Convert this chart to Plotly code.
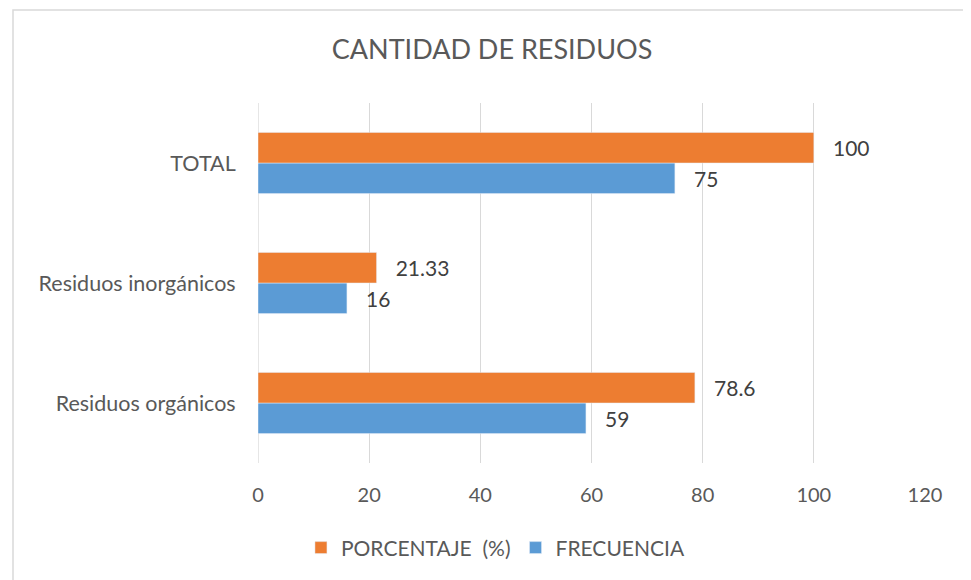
import plotly.graph_objects as go

categories = ["Residuos orgánicos", "Residuos inorgánicos", "TOTAL"]
frecuencia = [59, 16, 75]
porcentaje = [78.6, 21.33, 100]
frec_labels = ["59", "16", "75"]
porc_labels = ["78.6", "21.33", "100"]
x_ticks = [0, 20, 40, 60, 80, 100, 120]

FONT = "Lato, 'Open Sans', sans-serif"
pad = "\u00a0\u00a0\u00a0"

# page body has an 8px margin; figure is sized to fill the rest of the window
W, H = 963, 572
L, T, PW, PH = 250, 95, 667, 360

fig = go.Figure()
fig.add_trace(go.Bar(
    y=categories, x=frecuencia, orientation="h", name="FRECUENCIA",
    marker=dict(color="#5B9BD5"),
    text=[pad + t for t in frec_labels], textposition="outside",
    textfont=dict(size=21, color="#404040", family=FONT),
    cliponaxis=False,
))
fig.add_trace(go.Bar(
    y=categories, x=porcentaje, orientation="h", name="PORCENTAJE\u00a0\u00a0(%)",
    marker=dict(color="#ED7D31"),
    text=[pad + t for t in porc_labels], textposition="outside",
    textfont=dict(size=21, color="#404040", family=FONT),
    cliponaxis=False,
))

fig.update_layout(
    width=W, height=H,
    margin=dict(l=L, r=W - L - PW, t=T, b=H - T - PH, autoexpand=False),
    paper_bgcolor="white", plot_bgcolor="white",
    barmode="group", bargap=0.49, bargroupgap=0,
    font=dict(family=FONT, color="#595959", size=20),
    title=dict(text="CANTIDAD DE RESIDUOS", x=484 / W, xanchor="center",
               y=1 - 42 / H, yanchor="middle",
               font=dict(size=27, color="#595959", family=FONT)),
    legend=dict(orientation="h", traceorder="reversed",
                x=0.356, xanchor="center", y=-0.236, yanchor="middle",
                font=dict(size=21, color="#595959", family=FONT),
                itemwidth=30),
    showlegend=True,
)
fig.update_xaxes(
    range=[0, 120], tickvals=x_ticks, ticktext=[str(v) for v in x_ticks],
    showgrid=True, gridcolor="#D9D9D9", gridwidth=1.3,
    zeroline=False, showline=False, automargin=False,
    ticks="outside", ticklen=14, tickcolor="rgba(0,0,0,0)",
    tickfont=dict(size=20, color="#595959"),
)
fig.update_yaxes(
    showgrid=False, zeroline=False, showline=False, automargin=False,
    ticks="outside", ticklen=17, tickcolor="rgba(0,0,0,0)",
    tickfont=dict(size=21.5, color="#595959"),
)
fig.add_shape(type="line", xref="x", yref="paper", x0=0, x1=0, y0=0, y1=1,
              line=dict(color="#D9D9D9", width=1.3), layer="below")
fig.add_shape(type="rect", xref="paper", yref="paper",
              x0=(5 - L) / PW, x1=(1200 - L) / PW,
              y0=-0.6, y1=(T + PH - 2) / PH,
              line=dict(color="#D9D9D9", width=1.5), layer="below")

fig.write_html("out.html")
